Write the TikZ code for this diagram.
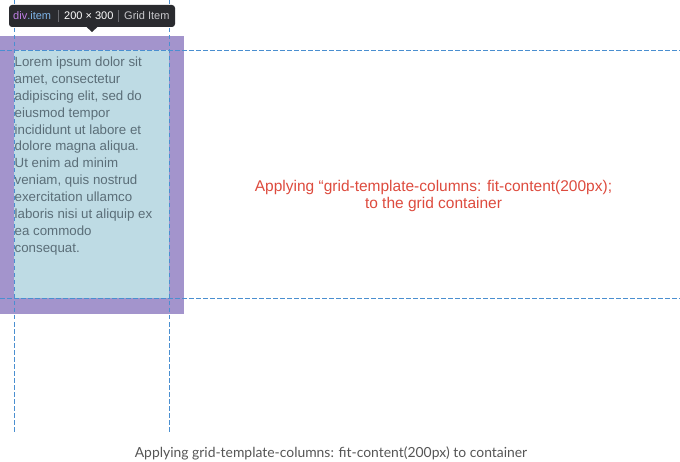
\documentclass[tikz,border=0pt]{standalone}
\usepackage{fontspec}
\setmainfont{Liberation Sans}
\newfontfamily\capfont{Lato}
\definecolor{purplebox}{HTML}{A394CC}
\definecolor{bluebox}{HTML}{BEDBE4}
\definecolor{gridline}{HTML}{4A8FD0}
\definecolor{loremtext}{HTML}{5B6E78}
\definecolor{redtext}{HTML}{DD4B3E}
\definecolor{captext}{HTML}{555555}
\definecolor{tipbg}{HTML}{2A2B2F}
\definecolor{tipdiv}{HTML}{C07FE6}
\definecolor{tipitem}{HTML}{7EB4E8}
\definecolor{tipsep}{HTML}{6A6B70}
\definecolor{tipgrey}{HTML}{C8C8CC}
\tikzset{
  gridrule/.style={draw=gridline, line width=0.9pt, dash pattern=on 4.5pt off 2.5pt},
  loremline/.style={anchor=base west, inner sep=0pt, text=loremtext, font=\fontsize{13.3}{17}\selectfont},
  redline/.style={anchor=base, inner sep=0pt, text=redtext, font=\fontsize{15.5}{18}\selectfont},
  tiptext/.style={inner sep=0pt, anchor=base west, font=\fontsize{11}{13}\selectfont},
}
\begin{document}
\begin{tikzpicture}[x=1pt,y=-1pt]
\useasboundingbox (0,0) rectangle (680,462);
% boxes
\fill[purplebox] (0,36) rectangle (184,314);
\fill[bluebox] (14,50) rectangle (169,298);
% lorem text
\foreach \t [count=\i] in {Lorem ipsum dolor sit,{amet, consectetur},{adipiscing elit, sed do},eiusmod tempor,incididunt ut labore et,dolore magna aliqua.,Ut enim ad minim,{veniam, quis nostrud},exercitation ullamco,laboris nisi ut aliquip ex,ea commodo,consequat.}
  \node[loremline] (lorem\i) at (14.5,{66.5+16.9*(\i-1)}) {\t};
% grid lines
\coordinate (v1top) at (14,0);   \coordinate (v1bot) at (14,432);
\coordinate (v2top) at (169,0);  \coordinate (v2bot) at (169,432);
\coordinate (h1l) at (0,50);     \coordinate (h1r) at (680,50);
\coordinate (h2l) at (0,298);    \coordinate (h2r) at (680,298);
\draw[gridrule] (v1top) -- (v1bot);
\draw[gridrule] (v2top) -- (v2bot);
\draw[gridrule] (h1l) -- (h1r);
\draw[gridrule] (h2l) -- (h2r);
% tooltip
\fill[tipbg, rounded corners=3pt] (9,5) rectangle (175,27);
\fill[tipbg] (86,26.5) -- (98,26.5) -- (92,32) -- cycle;
\node[tiptext] (tipname) at (13,20) {\textcolor{tipdiv}{div}\textcolor{tipitem}{.item}};
\draw[tipsep, line width=0.7pt] (58,10) -- (58,22);
\node[tiptext, text=white] (tipsize) at (64,20) {200 × 300};
\draw[tipsep, line width=0.7pt] (118,10) -- (118,22);
\node[tiptext, text=tipgrey] (tiptype) at (124,20) {Grid Item};
% red annotation
\node[redline] (red1) at (433.5,191.5) {Applying “grid-template-columns: fit-content(200px);};
\node[redline] (red2) at (433.5,208.5) {to the grid container};
% caption
\node[anchor=base, inner sep=0pt, text=captext, font=\capfont\fontsize{13.9}{16}\selectfont] (caption) at (331,457) {Applying grid-template-columns: fit-content(200px) to container};
\end{tikzpicture}
\end{document}
